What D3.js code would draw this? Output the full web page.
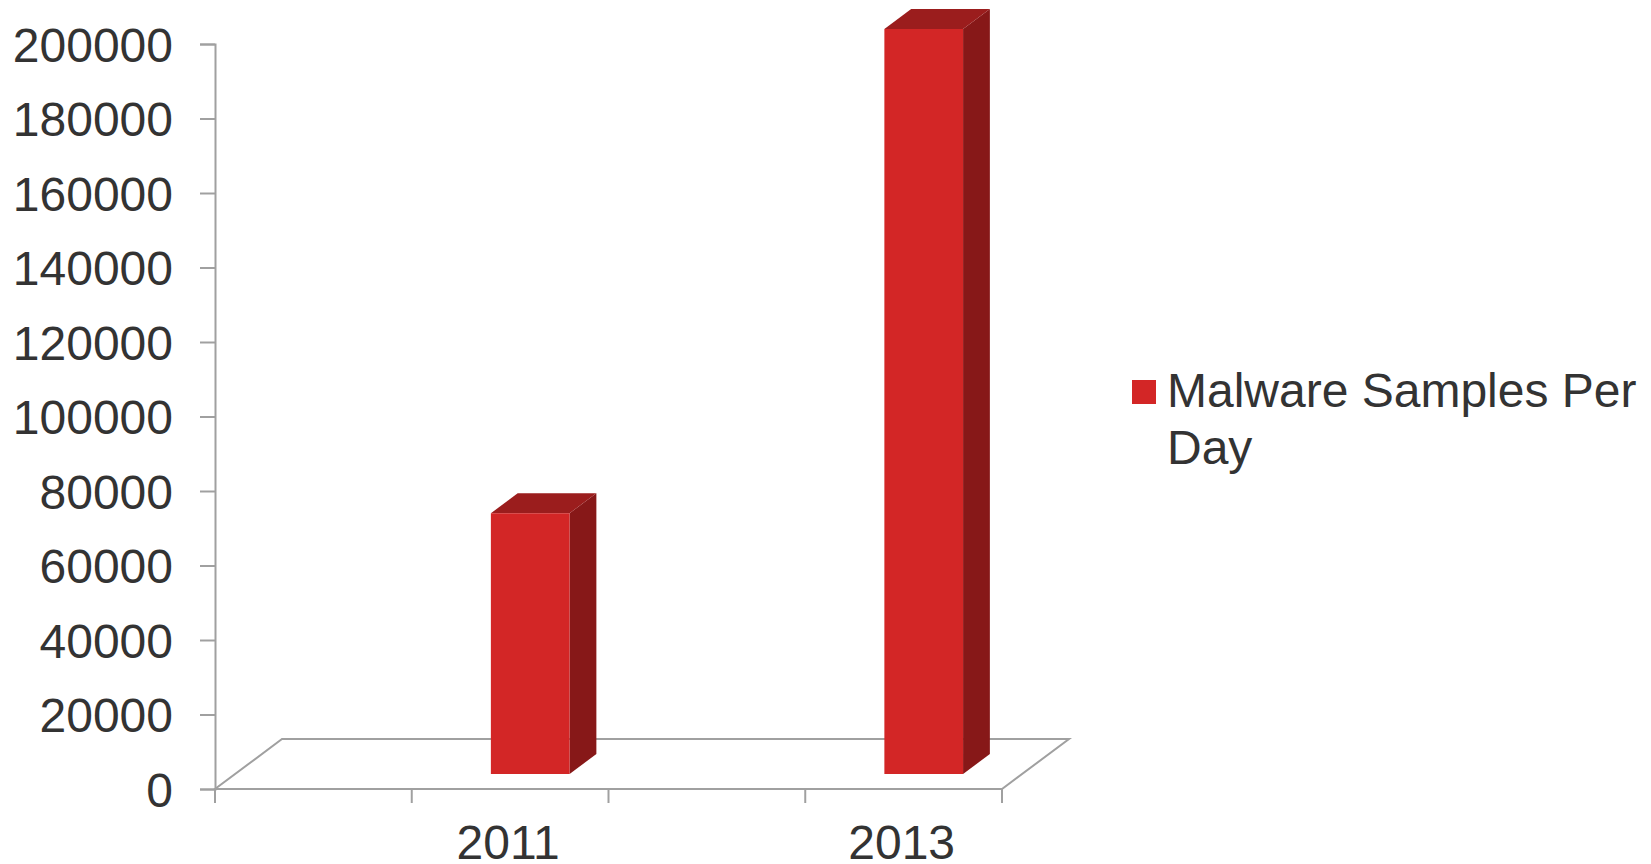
<!DOCTYPE html>
<html>
<head>
<meta charset="utf-8">
<script src="https://cdn.jsdelivr.net/npm/d3@7"></script>
<style>
    body { margin: 0; background: #fff; }
    text { font-family: "Liberation Sans", Arial, sans-serif; fill: #333; }
</style>
</head>
<body>
<div id="chart"></div>
<script>
// data
const slots = [0, 1, 2, 3];
const slotLabels = ["", "2011", "", "2013"];
const values = [null, 70000, null, 200000];
const seriesName = ["Malware Samples Per", "Day"];
const yTicks = [0, 20000, 40000, 60000, 80000, 100000, 120000, 140000, 160000, 180000, 200000];

const W = 1651, H = 864;
const colors = { front: "#d32626", top: "#9b1d1d", side: "#871818", axis: "#a0a0a0" };

// oblique depth of the floor
const depth = { dx: 67, dy: -50 };
const barDepth = [0.3, 0.7];

const svg = d3.select("#chart")
    .append("svg")
    .attr("width", W)
    .attr("height", H);

const x0 = 215, x1 = 1002;

const slotScale = d3.scaleBand()
    .domain(slots)
    .range([x0, x1]);

const barScale = d3.scaleBand()
    .domain(slots)
    .range([x0, x1])
    .paddingInner(0.6)
    .paddingOuter(0.3);

const yScale = d3.scaleLinear()
    .domain([0, 200000])
    .range([789, 44]);

// floor
let floor = svg.append("g").attr("class", "floor");
const y0 = yScale(0);
const pts = [
    [x0, y0], [x1, y0],
    [x1 + depth.dx, y0 + depth.dy], [x0 + depth.dx, y0 + depth.dy]
];
floor.append("path")
    .attr("d", d3.line()(pts) + "Z")
    .attr("fill", "none")
    .attr("stroke", colors.axis)
    .attr("stroke-width", 2);

// category ticks on the slot boundaries
const bounds = slots.map(s => slotScale(s)).concat([x1]);
floor.selectAll("line.xtick")
    .data(bounds)
    .enter()
    .append("line")
    .attr("class", "xtick")
    .attr("x1", d => d).attr("x2", d => d)
    .attr("y1", y0).attr("y2", y0 + 14)
    .attr("stroke", colors.axis)
    .attr("stroke-width", 2);

floor.selectAll("text.xlab")
    .data(slots.filter(s => slotLabels[s] !== ""))
    .enter()
    .append("text")
    .attr("class", "xlab")
    .attr("x", d => slotScale(d) + slotScale.bandwidth() / 2 - 2)
    .attr("y", 859)
    .attr("text-anchor", "middle")
    .attr("font-size", "48px")
    .text(d => slotLabels[d]);

// y axis
const yAxis = d3.axisLeft(yScale)
    .tickValues(yTicks)
    .tickSize(15)
    .tickPadding(27)
    .tickFormat(d3.format("d"));

let axis = svg.append("g")
    .attr("transform", `translate(${x0}, 0)`)
    .call(yAxis);
axis.select(".domain").attr("stroke", colors.axis).attr("stroke-width", 2);
axis.selectAll(".tick line").attr("stroke", colors.axis).attr("stroke-width", 2);
axis.selectAll(".tick text")
    .attr("font-size", "48px")
    .attr("fill", "#333")
    .attr("font-family", "Liberation Sans, Arial, sans-serif")
    .attr("dy", "0.36em");

// bars
let bars = svg.append("g").attr("class", "bars");
const bw = barScale.bandwidth();
const fdx = barDepth[0] * depth.dx, fdy = barDepth[0] * depth.dy;
const bdx = barDepth[1] * depth.dx, bdy = barDepth[1] * depth.dy;

slots.forEach(s => {
    const v = values[s];
    if (v == null) return;
    const bx = barScale(s);
    const yt = yScale(v);
    let g = bars.append("g");

    // side
    g.append("path")
        .attr("d", d3.line()([
            [bx + bw + fdx, yt + fdy], [bx + bw + bdx, yt + bdy],
            [bx + bw + bdx, y0 + bdy], [bx + bw + fdx, y0 + fdy]
        ]) + "Z")
        .attr("fill", colors.side);

    // top
    g.append("path")
        .attr("d", d3.line()([
            [bx + fdx, yt + fdy], [bx + bdx, yt + bdy],
            [bx + bw + bdx, yt + bdy], [bx + bw + fdx, yt + fdy]
        ]) + "Z")
        .attr("fill", colors.top);

    // front
    g.append("rect")
        .attr("x", bx + fdx)
        .attr("y", yt + fdy)
        .attr("width", bw)
        .attr("height", y0 - yt)
        .attr("fill", colors.front);
});

// legend
let legend = svg.append("g").attr("class", "legend");
legend.append("rect")
    .attr("x", 1132)
    .attr("y", 380)
    .attr("width", 24)
    .attr("height", 24)
    .attr("fill", colors.front);
legend.append("text")
    .attr("font-size", "48px")
    .selectAll("tspan")
    .data(seriesName)
    .enter()
    .append("tspan")
    .attr("x", 1167)
    .attr("y", (d, i) => 407 + i * 57)
    .text(d => d);
</script>
</body>
</html>
